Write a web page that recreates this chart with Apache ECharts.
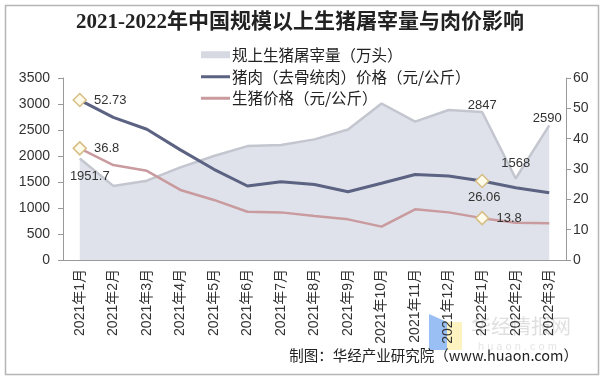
<!DOCTYPE html>
<html>
<head>
<meta charset="utf-8">
<script src="https://cdn.jsdelivr.net/npm/echarts@6/dist/echarts.min.js"></script>
<style>
  html, body { margin: 0; padding: 0; background: #fff; }
  #main { width: 600px; height: 377px; }
</style>
</head>
<body>
<div id="main"></div>
<script>
var months = ['2021年1月', '2021年2月', '2021年3月', '2021年4月', '2021年5月', '2021年6月', '2021年7月',
  '2021年8月', '2021年9月', '2021年10月', '2021年11月', '2021年12月', '2022年1月', '2022年2月', '2022年3月'];
// slaughter volume (万头), left axis
var slaughter = [1951.7, 1425, 1525, 1780, 2000, 2190, 2212, 2320, 2510, 3010, 2660, 2885, 2847, 1568, 2590];
// pork price (元/公斤), right axis
var porkPrice = [52.73, 47.0, 43.1, 36.3, 29.9, 24.4, 25.8, 24.9, 22.5, 25.3, 28.2, 27.7, 26.06, 23.8, 22.2];
// live hog price (元/公斤), right axis
var hogPrice = [36.8, 31.3, 29.4, 23.1, 19.8, 15.9, 15.7, 14.5, 13.4, 11.0, 16.7, 15.7, 13.8, 12.3, 12.1];

var leftTicks = { min: 0, max: 3500, interval: 500 };
var rightTicks = { min: 0, max: 60, interval: 10 };

var names = ['规上生猪屠宰量（万头）', '猪肉（去骨统肉）价格（元/公斤）', '生猪价格（元/公斤）'];

var labelFont = { fontSize: 13, color: '#333', fontFamily: 'Liberation Sans, Arial, sans-serif' };
var diamond = {
  symbol: 'diamond', symbolSize: 13,
  itemStyle: { color: '#fffbea', borderColor: '#d6bd85', borderWidth: 1.5 }
};
var hidden = { symbol: 'circle', symbolSize: 0.1 };

function withLabels(values, labels) {
  return values.map(function (v, i) {
    var cfg = labels[i];
    if (!cfg) return v;
    var item = { value: v };
    Object.assign(item, cfg.marker ? diamond : hidden);
    item.label = Object.assign({ show: true }, labelFont, cfg.label);
    return item;
  });
}

var legendText = { fontSize: 15.5, color: '#222', padding: [0, 0, 0, -3], fontFamily: 'Noto Sans CJK SC, sans-serif' };

var chart = echarts.init(document.getElementById('main'));
chart.setOption({
  backgroundColor: '#fff',
  animation: false,
  title: {
    text: '2021-2022年中国规模以上生猪屠宰量与肉价影响',
    left: 'center', top: 7,
    textStyle: { fontSize: 21, fontWeight: 'bold', color: '#222', fontFamily: 'Liberation Serif, Noto Sans CJK SC, serif' }
  },
  legend: [
    {
      orient: 'vertical', left: 201, top: 47, padding: 0,
      itemWidth: 29, itemHeight: 7, itemGap: 6,
      textStyle: legendText,
      data: [{ name: names[0], icon: 'rect' }]
    },
    {
      orient: 'vertical', left: 201, top: 69, padding: 0,
      itemWidth: 29, itemHeight: 3, itemGap: 6,
      textStyle: legendText,
      data: [{ name: names[1], icon: 'rect' }, { name: names[2], icon: 'rect' }]
    }
  ],
  grid: { left: 63, right: 34, top: 78, bottom: 117 },
  xAxis: {
    type: 'category', data: months, boundaryGap: true,
    axisLine: { lineStyle: { color: '#999' } },
    axisTick: { lineStyle: { color: '#999' }, length: 5 },
    axisLabel: { rotate: 90, fontSize: 14, color: '#333', margin: 9, fontFamily: 'Liberation Sans, Noto Sans CJK SC, sans-serif' }
  },
  yAxis: [
    Object.assign({
      type: 'value', position: 'left',
      axisLine: { show: true, lineStyle: { color: '#999' } },
      axisTick: { show: true, length: 5, lineStyle: { color: '#999' } },
      splitLine: { show: false },
      axisLabel: {
        fontSize: 14, color: '#333', margin: 13, fontFamily: 'Liberation Sans, Arial, sans-serif',
        formatter: function (v) { return String(v); }
      }
    }, leftTicks),
    Object.assign({
      type: 'value', position: 'right',
      axisLine: { show: true, lineStyle: { color: '#999' } },
      axisTick: { show: true, length: 5, lineStyle: { color: '#999' } },
      splitLine: { show: false },
      axisLabel: { fontSize: 14, color: '#333', margin: 7, fontFamily: 'Liberation Sans, Arial, sans-serif' }
    }, rightTicks)
  ],
  series: [
    {
      name: names[0], type: 'line', yAxisIndex: 0,
      symbol: 'none', z: 1,
      color: '#d6d9e2',
      lineStyle: { color: '#c3c6ce', width: 2.5 },
      areaStyle: { color: '#dfe2ea', opacity: 1 },
      data: withLabels(slaughter, {
        0: { label: { position: 'bottom', distance: 6, offset: [10, 5] } },
        12: { label: { position: 'top', distance: 4, offset: [0, 4] } },
        13: { label: { position: 'top', distance: 8 } },
        14: { label: { position: 'top', distance: 3, offset: [-2, 3] } }
      })
    },
    {
      name: names[1], type: 'line', yAxisIndex: 1,
      symbol: 'none', z: 3,
      color: '#5b6282',
      lineStyle: { color: '#5b6282', width: 3 },
      data: withLabels(porkPrice, {
        0: { marker: true, label: { position: 'right', distance: 7 } },
        12: { marker: true, label: { position: 'bottom', distance: 3, offset: [2, 0] } }
      })
    },
    {
      name: names[2], type: 'line', yAxisIndex: 1,
      symbol: 'none', z: 2,
      color: '#c99a9e',
      lineStyle: { color: '#c99a9e', width: 2.5 },
      data: withLabels(hogPrice, {
        0: { marker: true, label: { position: 'right', distance: 7 } },
        12: { marker: true, label: { position: 'right', distance: 7 } }
      })
    }
  ],
  graphic: [
    {
      type: 'rect', left: 3, top: 3, silent: true,
      shape: { width: 593, height: 369 },
      style: { fill: null, stroke: '#b5b5b5', lineWidth: 1.5 }
    },
    {
      type: 'polygon', silent: true, z: -2,
      shape: { points: [[429, 314], [447, 322], [447, 350], [429, 350]] },
      style: { fill: 'rgba(120,170,240,0.75)' }
    },
    {
      type: 'rect', silent: true, z: -2,
      shape: { x: 447, y: 322, width: 15, height: 28 },
      style: { fill: 'rgba(250,235,150,0.6)' }
    },
    {
      type: 'text', left: 471, top: 316, silent: true, z: -1,
      style: { text: '华经情报网', fontSize: 20, fill: 'rgba(150,150,150,0.3)', fontFamily: 'Noto Sans CJK SC' }
    },
    {
      type: 'text', left: 478, top: 341, silent: true, z: -1,
      style: { text: 'h u a o n . c o m', fontSize: 11, fill: 'rgba(150,150,150,0.25)', fontFamily: 'Liberation Sans' }
    },
    {
      type: 'text', right: 22, top: 348,
      style: { text: '制图：华经产业研究院（www.huaon.com）', fontSize: 14.5, fill: '#222', fontFamily: 'Noto Sans CJK SC, sans-serif' }
    }
  ]
});
</script>
</body>
</html>
